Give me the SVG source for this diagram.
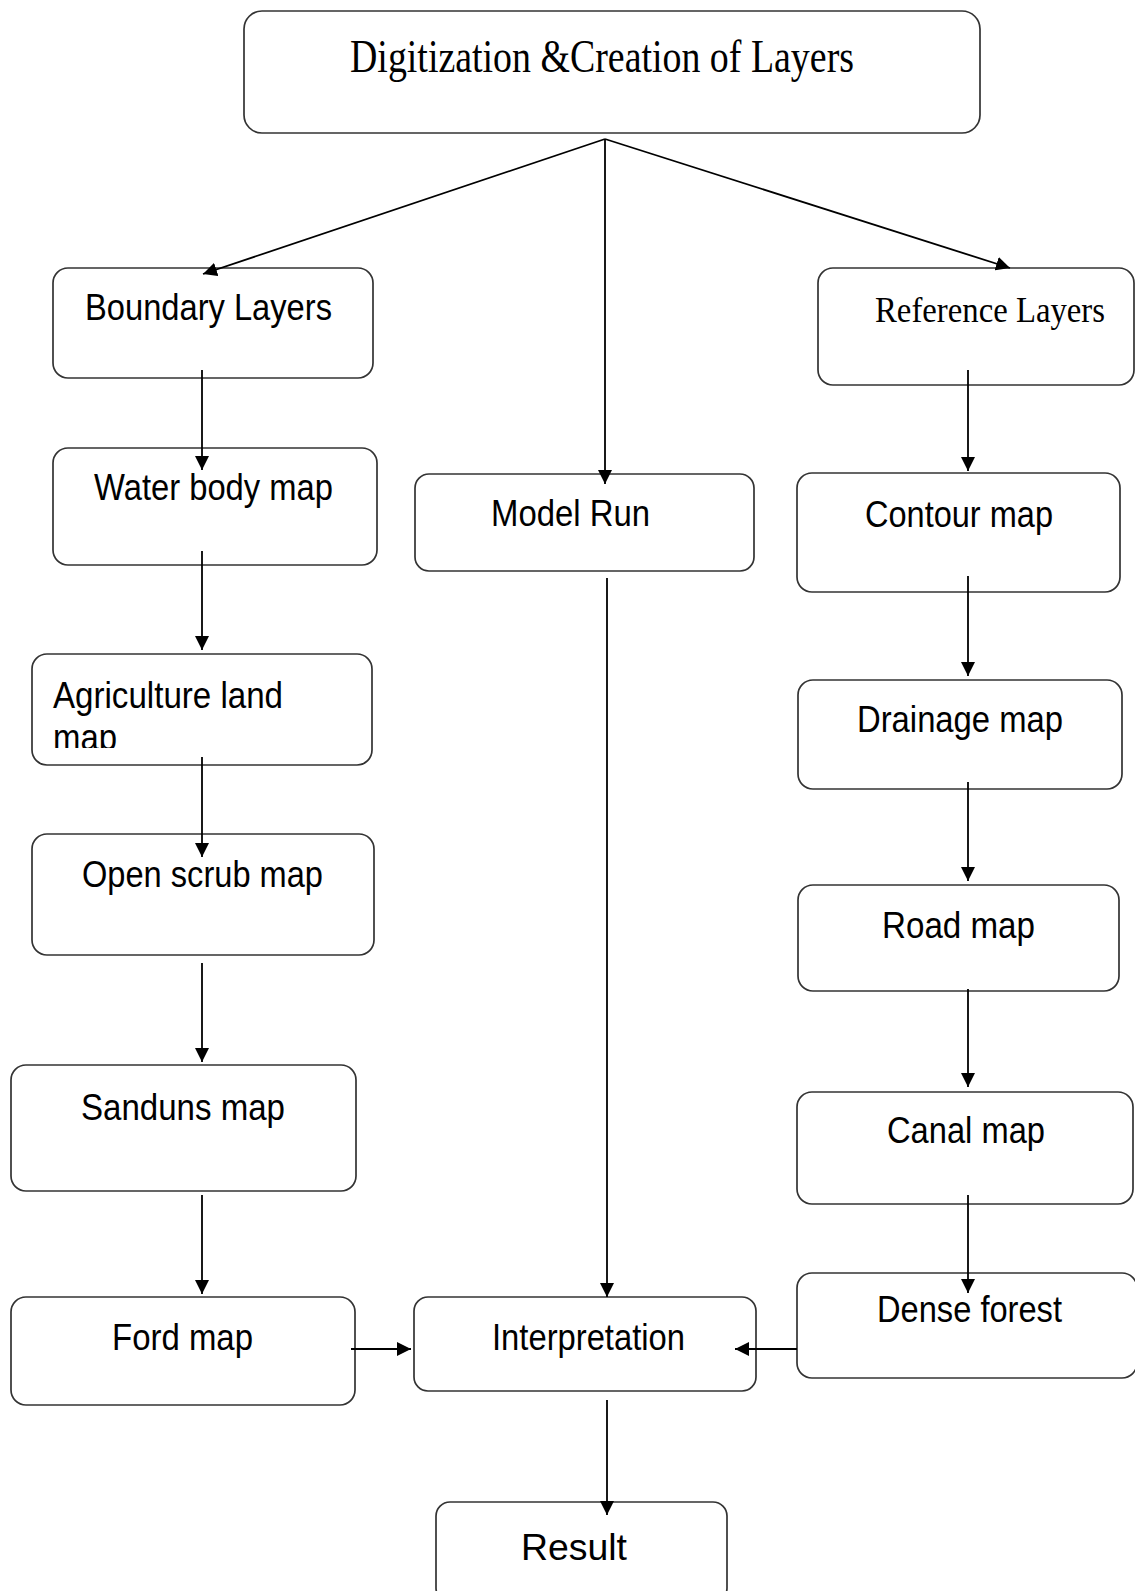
<svg xmlns="http://www.w3.org/2000/svg" width="1135" height="1591" viewBox="0 0 1135 1591">
<style>
.box{fill:#fff;stroke:#333;stroke-width:1.7}
.sans{font-family:"Liberation Sans",Arial,sans-serif;font-size:36px;fill:#000}
.serif{font-family:"Liberation Serif","Times New Roman",serif;fill:#000}
.conn line{stroke:#000;stroke-width:1.8;fill:none}
</style>
<defs>
<marker id="ah" markerUnits="userSpaceOnUse" markerWidth="14" markerHeight="14" refX="14" refY="7" orient="auto">
<path d="M0,0 L14,7 L0,14 z" fill="#000"/>
</marker>
<clipPath id="clipAgri"><rect x="30" y="650" width="345" height="98"/></clipPath>
</defs>
<rect width="1135" height="1591" fill="#fff"/>

<g id="n-top"><rect class="box" x="244" y="11" width="736" height="122" rx="18"/>
<text class="serif" x="350" y="72" font-size="46" textLength="504" lengthAdjust="spacingAndGlyphs">Digitization &amp;Creation of Layers</text></g>

<g id="n-boundary"><rect class="box" x="53" y="268" width="320" height="110" rx="15"/>
<text class="sans" x="85" y="320" textLength="247" lengthAdjust="spacingAndGlyphs">Boundary Layers</text></g>

<g id="n-reference"><rect class="box" x="818" y="268" width="316" height="117" rx="15"/>
<text class="serif" x="875" y="322" font-size="35" textLength="230" lengthAdjust="spacingAndGlyphs">Reference Layers</text></g>

<g id="n-water"><rect class="box" x="53" y="448" width="324" height="117" rx="15"/>
<text class="sans" x="94" y="500" textLength="239" lengthAdjust="spacingAndGlyphs">Water body map</text></g>

<g id="n-model"><rect class="box" x="415" y="474" width="339" height="97" rx="14"/>
<text class="sans" x="491" y="526" textLength="159" lengthAdjust="spacingAndGlyphs">Model Run</text></g>

<g id="n-contour"><rect class="box" x="797" y="473" width="323" height="119" rx="15"/>
<text class="sans" x="865" y="527" textLength="188" lengthAdjust="spacingAndGlyphs">Contour map</text></g>

<g id="n-agri"><rect class="box" x="32" y="654" width="340" height="111" rx="15"/>
<text class="sans" x="53" y="708" textLength="230" lengthAdjust="spacingAndGlyphs">Agriculture land</text>
<text class="sans" x="53" y="750" clip-path="url(#clipAgri)" textLength="64" lengthAdjust="spacingAndGlyphs">map</text></g>

<g id="n-drainage"><rect class="box" x="798" y="680" width="324" height="109" rx="15"/>
<text class="sans" x="857" y="732" textLength="206" lengthAdjust="spacingAndGlyphs">Drainage map</text></g>

<g id="n-open"><rect class="box" x="32" y="834" width="342" height="121" rx="15"/>
<text class="sans" x="82" y="887" textLength="241" lengthAdjust="spacingAndGlyphs">Open scrub map</text></g>

<g id="n-road"><rect class="box" x="798" y="885" width="321" height="106" rx="15"/>
<text class="sans" x="882" y="938" textLength="153" lengthAdjust="spacingAndGlyphs">Road map</text></g>

<g id="n-sanduns"><rect class="box" x="11" y="1065" width="345" height="126" rx="15"/>
<text class="sans" x="81" y="1120" font-size="38" textLength="204" lengthAdjust="spacingAndGlyphs">Sanduns map</text></g>

<g id="n-canal"><rect class="box" x="797" y="1092" width="336" height="112" rx="15"/>
<text class="sans" x="887" y="1143" textLength="158" lengthAdjust="spacingAndGlyphs">Canal map</text></g>

<g id="n-dense"><rect class="box" x="797" y="1273" width="340" height="105" rx="15"/>
<text class="sans" x="877" y="1322" textLength="185" lengthAdjust="spacingAndGlyphs">Dense forest</text></g>

<g id="n-ford"><rect class="box" x="11" y="1297" width="344" height="108" rx="15"/>
<text class="sans" x="112" y="1350" font-size="38" textLength="141" lengthAdjust="spacingAndGlyphs">Ford map</text></g>

<g id="n-interp"><rect class="box" x="414" y="1297" width="342" height="94" rx="14"/>
<text class="sans" x="492" y="1350" font-size="38" textLength="193" lengthAdjust="spacingAndGlyphs">Interpretation</text></g>

<g id="n-result"><rect class="box" x="436" y="1502" width="291" height="100" rx="14"/>
<text class="sans" x="521" y="1560" font-size="42" textLength="106" lengthAdjust="spacingAndGlyphs">Result</text></g>

<g id="connectors" class="conn">
<line x1="605" y1="139" x2="203" y2="274" marker-end="url(#ah)"/>
<line x1="605" y1="139" x2="605" y2="484" marker-end="url(#ah)"/>
<line x1="605" y1="139" x2="1010" y2="268" marker-end="url(#ah)"/>
<line x1="202" y1="370" x2="202" y2="470" marker-end="url(#ah)"/>
<line x1="202" y1="551" x2="202" y2="650" marker-end="url(#ah)"/>
<line x1="202" y1="757" x2="202" y2="857" marker-end="url(#ah)"/>
<line x1="202" y1="963" x2="202" y2="1062" marker-end="url(#ah)"/>
<line x1="202" y1="1195" x2="202" y2="1294" marker-end="url(#ah)"/>
<line x1="351" y1="1349" x2="411" y2="1349" marker-end="url(#ah)"/>
<line x1="607" y1="578" x2="607" y2="1297" marker-end="url(#ah)"/>
<line x1="607" y1="1400" x2="607" y2="1515" marker-end="url(#ah)"/>
<line x1="968" y1="370" x2="968" y2="471" marker-end="url(#ah)"/>
<line x1="968" y1="576" x2="968" y2="676" marker-end="url(#ah)"/>
<line x1="968" y1="782" x2="968" y2="881" marker-end="url(#ah)"/>
<line x1="968" y1="989" x2="968" y2="1087" marker-end="url(#ah)"/>
<line x1="968" y1="1195" x2="968" y2="1293" marker-end="url(#ah)"/>
<line x1="797" y1="1349" x2="735" y2="1349" marker-end="url(#ah)"/>
</g>
</svg>
